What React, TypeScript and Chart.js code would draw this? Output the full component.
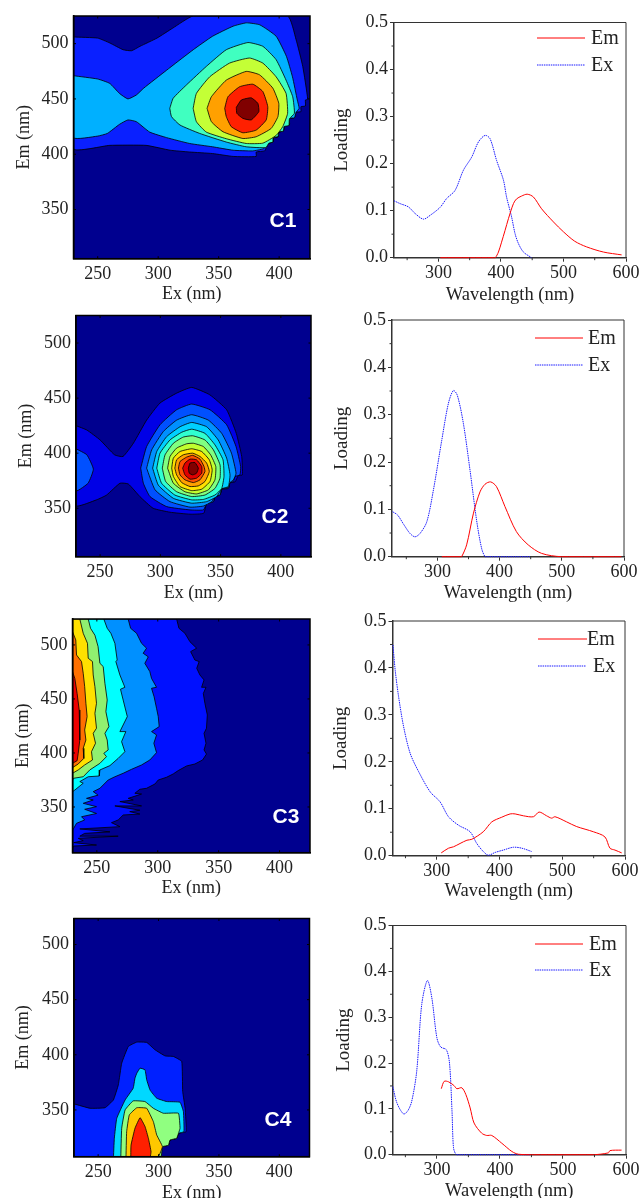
import React, { useEffect, useRef } from "react";
import { Chart, registerables } from "chart.js";

Chart.register(...registerables);

type P = [number, number];

/* ---------- axis ticks ---------- */
const exTicks = [250, 300, 350, 400];
const emTicks = [350, 400, 450, 500];
const waveTicks = [300, 400, 500, 600];
const waveMinor = [250, 350, 450, 550];
const loadTicks = [0, 0.1, 0.2, 0.3, 0.4, 0.5];
const loadMinor = [0.05, 0.15, 0.25, 0.35, 0.45];

/* ---------- C1 contours (Ex nm, Em nm) ---------- */
const c1Colors = ["#0a20ff", "#00b0ff", "#40ffc0", "#c4ff36", "#ffa000", "#ff2000", "#800000"];
const c1Levels: P[][] = [
  [[230, 506], [250, 505], [260, 500.6], [271, 494.5], [278, 493.6], [285, 497.6], [299, 505], [312, 514], [329, 525], [407, 525], [414, 503.6], [419.5, 479.4], [423.6, 449.7], [421.7, 449], [421.7, 443.6], [418, 443], [418, 438.5], [414, 438], [412.6, 433], [408.5, 432.4], [408.5, 426.4], [404.4, 425.5], [403.5, 421], [399.7, 420], [399, 415.8], [395, 415], [394.8, 411], [391.5, 410], [389, 405], [388, 403], [381, 402], [381, 398], [362, 398], [345, 400.6], [326, 402], [310, 403.6], [290, 408], [260, 408], [230, 405]],
  [[230, 471], [250, 468], [260, 464], [268, 455], [275, 450], [282, 453.6], [288, 459.7], [307, 476], [329, 494.5], [345, 506.7], [362, 515.8], [373, 518.8], [384, 517], [397.5, 506.7], [406, 488.5], [411, 470], [415, 449], [416.5, 441.5], [414, 438], [412.6, 433], [408.5, 432.4], [408.5, 426.4], [404.4, 425.5], [403.5, 421], [399.7, 420], [399, 415.8], [395, 415], [394.8, 411], [391.5, 410], [387, 405], [378, 403], [362, 403.6], [345, 406.7], [326, 409.7], [307, 415], [293, 420], [282, 429.4], [275, 431], [268, 427], [258, 418.8], [250, 416.4], [230, 415]],
  [[309.6, 441.5], [312.4, 450.6], [323.4, 462.7], [339.8, 479.4], [356.3, 494.5], [374.2, 501], [386.5, 497.6], [397.5, 485.5], [405.7, 467], [411.2, 452], [412.6, 437], [408.5, 432], [408, 426], [404, 425], [403.5, 421], [399.7, 420], [399, 416], [395, 415], [394.8, 411], [391.5, 410], [389, 406], [372.8, 406.7], [356.3, 411], [334.3, 418.8], [318, 426.4], [311, 434]],
  [[328.9, 441.5], [331.6, 455], [342.6, 470], [359, 482.4], [375.5, 487], [386.5, 482.4], [397.5, 470], [405.7, 455], [407, 437], [403, 425], [397.5, 417], [386.5, 410], [372.8, 409.7], [356.3, 414], [339.8, 420], [331.6, 429.4]],
  [[340.4, 441.5], [344, 452], [356.3, 467], [372.8, 474.9], [383.8, 471.8], [394.8, 459.7], [399.7, 446], [399, 434], [393.4, 423.3], [381, 415.8], [370, 414.2], [353.6, 420.3], [344, 429.4]],
  [[355, 441.5], [357.7, 452], [367.3, 461], [378.3, 463.3], [386.5, 456.7], [390.6, 443], [389.3, 431], [381, 421.8], [370, 419.4], [360.4, 424.9], [356.3, 434]],
  [[364.6, 442.4], [368.7, 449], [376.9, 451], [382.4, 446], [383.2, 438.5], [376.9, 431], [370, 432.4], [365, 437]],
];

/* ---------- C2 contours ---------- */
const c2Colors = ["#0000e6", "#0050ff", "#0090ff", "#00d0ff", "#30ffd0", "#80ff80", "#c0ff30", "#ffe000", "#ffa000", "#ff5000", "#e00000", "#800000"];
const c2Side: P[] = [[230, 404], [239, 398.5], [244.4, 385.5], [240, 372.7], [230, 365.8]];
const c2Levels: P[][] = [
  [[230, 425], [239, 421], [250, 412], [262, 398.5], [269, 397], [277.6, 409], [288.6, 430], [299.7, 445.5], [313.5, 454.5], [326, 459.7], [341, 453], [355, 439.4], [363, 418], [367.5, 397], [368, 380.3], [364.7, 379.7], [362, 374], [357.8, 373.3], [356.4, 368], [351, 367.6], [349.5, 362], [345.3, 360.6], [344, 356], [338.4, 354.6], [336, 345.5], [324.6, 344.6], [308, 346.4], [294, 350], [283, 360.6], [273.4, 372], [266.5, 372.7], [255.4, 362], [247, 357.6], [230, 352.4]],
  [[283.7, 386.4], [288.6, 406], [299.7, 425.8], [313.5, 439.4], [326, 444.6], [341.2, 439.4], [355, 425.8], [362.8, 406], [366.6, 387.9], [366, 380.3], [362, 378.8], [360.6, 374.3], [357.8, 373.3], [356.4, 368], [350.9, 367.3], [349.5, 362], [345.3, 360.6], [344, 356], [338.4, 354], [335.7, 348.5], [324.6, 348.5], [305.2, 351.5], [291.4, 360.6], [285.9, 372.7]],
  [[288.6, 386.4], [292.8, 403], [302.5, 419.7], [313.5, 430], [326, 434.9], [339.8, 430], [350.9, 418], [359, 400], [362.8, 381.8], [360.6, 375.8], [357.8, 373.3], [356.4, 368.8], [350.9, 367.6], [349.5, 362], [345.3, 360.6], [342.6, 356], [335.7, 352], [324.6, 351], [308, 356], [295.6, 366.7]],
  [[293.6, 386.4], [297, 401.5], [305.2, 415], [316.3, 424], [326, 427.9], [338.4, 424], [348, 412], [355, 395.5], [357.8, 380.3], [356.4, 369.7], [350.9, 367.6], [346.7, 360.6], [338.4, 356], [326, 354.6], [310.8, 359], [298.3, 371]],
  [[297, 386.4], [299.7, 400], [308, 412], [317.7, 419], [326, 421.8], [337, 418], [345.3, 407.6], [352, 394], [352.8, 378.8], [350.9, 368], [345.3, 362], [335.7, 358], [326, 357.6], [312, 362], [301, 372.7]],
  [[301.6, 386.4], [303.9, 398.5], [310.8, 409], [319, 414.6], [326.8, 415.8], [337, 412], [344, 403], [349.5, 389.4], [349.5, 377.3], [345.3, 368], [337, 362], [326, 360.6], [313.5, 365], [304.4, 374.3]],
  [[306, 386.4], [308, 397], [313.5, 404.6], [321.8, 408.5], [327.4, 409], [335.7, 406], [341.7, 398.5], [346, 387.9], [345.3, 375.8], [339.8, 366.7], [330, 363], [320.4, 365], [310.8, 372.7]],
  [[309.4, 386.4], [310.8, 395.5], [316.3, 401.5], [326, 404], [334.3, 401.5], [340.6, 394], [343, 384.9], [341.2, 374.3], [334.3, 367.3], [326, 366], [316.3, 369.7], [310.8, 378.8]],
  [[312, 386.4], [313.5, 394], [319, 398.5], [326.8, 400], [332.9, 397], [338.4, 391], [340.6, 383.3], [337, 374.3], [331.5, 370.3], [324.6, 369.7], [317.7, 373.3], [313.5, 380.3]],
  [[315, 386.4], [316.3, 392.4], [321.8, 396.4], [326.8, 398], [332.9, 394.6], [336.2, 387.9], [337, 383.3], [332.9, 375.8], [327.4, 373.3], [320.4, 375.8], [316.3, 380.3]],
  [[318.5, 386.4], [320.4, 391], [324.6, 394.6], [330, 394], [334.3, 387.9], [334.3, 381.8], [330, 377.3], [324.6, 376.4], [320.4, 380.3]],
  [[323.2, 386.4], [324.6, 391], [328.7, 391.5], [331.5, 386.4], [330, 381.8], [326.8, 380.3], [324, 381.8]],
];

/* ---------- C3 contours ---------- */
const c3Colors = ["#0010ff", "#0090ff", "#00ffff", "#90f070", "#ffe000", "#ff7000", "#ee0000"];
const c3Levels: P[][] = [
  [[230, 524], [315.5, 524], [317.4, 515.4], [322.3, 510.8], [326.4, 503], [331.9, 497], [327, 493.8], [330.5, 486], [334, 484.6], [332, 478.4], [334.6, 472.2], [338, 467.6], [336, 460.8], [339.6, 460.8], [337.4, 455], [338.7, 446], [340.7, 435.2], [340, 422.9], [338, 418.2], [339.6, 409], [338, 402.8], [340, 399], [336.8, 393.5], [330.5, 389.8], [323.7, 388], [316.8, 383.7], [312.7, 380.6], [307.2, 377.5], [300.4, 375], [297.7, 371.3], [290.8, 367.3], [285.3, 366.4], [281.2, 362.7], [286.7, 362], [275.7, 358], [279.9, 356.5], [268.9, 355], [286.7, 351], [264.8, 351], [285.3, 347], [277, 345.7], [285.3, 343.5], [271.6, 342.6], [267.5, 338], [262, 335.5], [268.9, 331.8], [236, 329.7], [260.7, 327], [240, 325.6], [236, 323], [267.5, 323], [234.7, 321], [238.8, 318.9], [231, 317], [249.7, 314.8], [231, 313.9], [230, 311.8]],
  [[230, 524], [275.7, 524], [277.7, 515.4], [282.6, 510.8], [286.7, 501.5], [290.8, 497], [288, 492.3], [292.2, 489], [289.4, 483], [293.5, 475.3], [294.9, 469], [299, 460.8], [294.9, 459.9], [297, 452], [299, 441.4], [300.4, 433.7], [301.2, 424.4], [294.9, 419.8], [299, 416.7], [296.8, 409], [299, 400.3], [293.5, 393.5], [286.7, 388.9], [278.5, 384.9], [271.6, 381.2], [264.8, 378], [259.3, 375], [252.5, 367.3], [247, 364.2], [251, 361], [241.5, 358], [247, 356.5], [238.8, 353.4], [249.7, 350.3], [240, 347.9], [249.7, 344], [237.4, 341], [240, 338], [233.3, 334.9], [231, 330.3], [230, 328.7]],
  [[230, 524], [255.7, 524], [258.5, 515.4], [261.5, 510.8], [264.8, 501.5], [266.7, 486], [265.6, 484.6], [268.9, 472.2], [273, 460.8], [269.4, 459], [271.6, 449], [275, 433.7], [268.9, 419.8], [273.8, 419.8], [270.3, 410.5], [273, 401.2], [267.5, 395], [260.7, 388.3], [252.5, 384.3], [252, 378.7], [242.9, 378], [236, 373.5], [238.8, 372], [232, 365.8], [230, 364.2]],
  [[230, 524], [242.9, 524], [244.8, 515.4], [248.4, 509], [251, 498.5], [252.5, 483], [255.2, 480], [256.6, 464.5], [258.5, 449], [257.4, 438.3], [259.9, 424.4], [256.6, 418.2], [258.5, 412], [259.3, 402.8], [255.7, 399.7], [257.9, 396.6], [252.5, 390.4], [244.2, 384.3], [238.8, 378], [231, 376.6], [230, 375]],
  [[230, 524], [236, 524], [238.8, 510.8], [242.3, 501.5], [242.9, 487.7], [246.4, 484.6], [247, 472.2], [248.4, 461.4], [249.7, 446], [248.4, 436.7], [249.7, 422.9], [247, 418.2], [248.9, 409], [245.6, 401.2], [246.4, 393.5], [240, 388.9], [234.7, 384.3], [230, 381.2]],
  [[230, 512.3], [232.7, 504.6], [233.3, 490.7], [237.4, 484.6], [238.8, 473.8], [240, 461.4], [241, 446], [242, 433.7], [240, 421.3], [241, 412], [238.8, 404.3], [239.3, 395], [234.7, 389.8], [230, 386.4]],
  [[230, 475.3], [231.9, 469], [233.8, 455], [235.5, 439.8], [236, 427.5], [236, 412], [234.7, 399.7], [233.8, 392.9], [230, 390.4]],
];

/* ---------- C4 contours ---------- */
const c4Colors = ["#0020ff", "#00d8ff", "#90ff80", "#ffc800", "#ff2000"];
const c4Levels: P[][] = [
  [[230, 355.5], [243.3, 351.5], [255.7, 352], [262.6, 359], [266.7, 372.7], [269.5, 392.4], [275, 407.6], [282, 411.5], [290.2, 411.2], [297, 404.6], [305.4, 399], [312.3, 398.5], [319.2, 394], [320, 366.7], [322, 351.5], [322.8, 330.3], [316.5, 328.8], [315, 324.3], [309.5, 322.7], [308.2, 318], [302.6, 316.7], [301.3, 305], [230, 305]],
  [[262.6, 305], [263.4, 324.3], [265.4, 342.4], [272.3, 359], [279, 369.7], [280.5, 378.8], [282, 383.3], [284.7, 387.9], [288.8, 386.4], [290.2, 377.3], [293, 368], [298.5, 360.6], [306.8, 357.6], [317.8, 357], [320.6, 348.5], [321, 330.3], [316.5, 328.8], [315, 324.3], [309.5, 322.7], [308.2, 318], [302.6, 316.7], [301.3, 305]],
  [[268.7, 305], [269.5, 333.4], [272.3, 350], [279, 358.2], [288.8, 357.6], [295.7, 351.5], [304, 347], [316.5, 347], [317.8, 333.4], [316.5, 328.8], [315, 324.3], [309.5, 322.7], [308.2, 318], [303.5, 316.7], [301.3, 305]],
  [[273, 305], [273.6, 330.3], [275.8, 345.5], [282, 352], [290.2, 351.5], [295.7, 339.4], [298.5, 327.3], [303.2, 316.7], [298.5, 305]],
  [[277, 305], [277.2, 318], [280.5, 333.4], [284.7, 343], [288.8, 335], [291.6, 324.3], [293.8, 312], [292.4, 305]],
];

/* ---------- loading curves (wavelength nm, loading) ---------- */
const l1Em: P[] = [[303, 0], [350, 0], [388, 0], [391, 0], [396, 0.012], [401, 0.033], [406.6, 0.058], [412, 0.083], [420, 0.115], [425, 0.125], [433, 0.131], [442, 0.135], [452, 0.129], [465, 0.104], [484, 0.076], [500, 0.055], [518, 0.035], [537, 0.023], [564, 0.012], [593, 0.006]];
const l1Ex: P[] = [[229, 0.121], [238.7, 0.115], [252, 0.108], [262.7, 0.094], [276, 0.082], [286.7, 0.09], [302.7, 0.107], [313.3, 0.126], [326.6, 0.143], [340, 0.186], [353.3, 0.214], [364, 0.246], [374.6, 0.26], [382.6, 0.253], [393, 0.207], [404, 0.165], [409, 0.129], [417, 0.087], [422.6, 0.051], [428, 0.03], [436, 0.012], [449, 0]];
const l2Em: P[] = [[307, 0], [337, 0], [339, 0], [347, 0.025], [358, 0.092], [368.5, 0.137], [376.5, 0.153], [385.6, 0.158], [395, 0.148], [408.6, 0.106], [427, 0.053], [446, 0.025], [467.5, 0.007], [499.6, 0], [595.8, 0]];
const l2Ex: P[] = [[228, 0.095], [236, 0.088], [245.4, 0.069], [256, 0.049], [264, 0.042], [272, 0.049], [283, 0.074], [293.6, 0.141], [307, 0.246], [317.7, 0.324], [325.7, 0.351], [332, 0.341], [341.7, 0.282], [352.4, 0.183], [363, 0.077], [371, 0.018], [376.5, 0], [380, 0], [448.7, 0]];
const l3Em: P[] = [[307, 0.006], [318.6, 0.016], [326.6, 0.019], [337, 0.026], [348, 0.033], [355.8, 0.035], [374, 0.051], [387.6, 0.072], [403.5, 0.082], [416.8, 0.089], [424.8, 0.089], [438, 0.085], [454, 0.083], [463, 0.093], [475, 0.085], [483, 0.08], [488.5, 0.083], [507, 0.072], [523, 0.062], [549.6, 0.051], [568, 0.04], [576, 0.016], [584, 0.012], [594.7, 0.006]];
const l3Ex: P[] = [[230, 0.449], [233.6, 0.395], [239, 0.339], [247, 0.275], [257.5, 0.218], [271, 0.179], [289.4, 0.136], [305, 0.115], [318.6, 0.083], [334.5, 0.065], [353, 0.051], [363.7, 0.026], [374, 0.009], [382, 0.001], [393, 0.007], [406, 0.012], [422, 0.018], [435.4, 0.016], [451, 0.009]];
const l4Em: P[] = [[307, 0.144], [311.6, 0.16], [318.5, 0.159], [327, 0.151], [331.7, 0.144], [339.6, 0.146], [346, 0.131], [352.8, 0.102], [359, 0.069], [371, 0.047], [379, 0.042], [387, 0.042], [403, 0.025], [419, 0.007], [429.4, 0.001], [453, 0], [548, 0], [572, 0.004], [574.6, 0.009], [593, 0.01]];
const l4Ex: P[] = [[230, 0.149], [236.6, 0.113], [247, 0.089], [253.5, 0.095], [260, 0.116], [268, 0.182], [276, 0.328], [285, 0.38], [292, 0.342], [300, 0.255], [306, 0.235], [315, 0.229], [320, 0.2], [324, 0.095], [326.4, 0.015], [330.6, 0], [335, 0], [448, 0]];

const SERIF = "'Liberation Serif', serif";
const INK = "#222";
const NAVY = "#00008f";
const asXY = (a: P[]) => a.map(([x, y]) => ({ x, y }));

type Rect = { l: number; r: number; t: number; b: number };

function contourConfig(c: any, top: number, left: number) {
  const datasets: any[] = [];
  const all: { pts: P[]; color: string }[] = c.levels.map((pts: P[], i: number) => ({ pts, color: c.colors[i] }));
  if (c.extra) all.splice(1, 0, { pts: c.extra, color: c.colors[1] });
  all.forEach((lv, i) => {
    datasets.push({
      data: asXY([...lv.pts, lv.pts[0]]),
      showLine: true,
      pointRadius: 0,
      borderColor: "#000",
      backgroundColor: lv.color,
      borderWidth: 0.8,
      tension: c.tension,
      fill: "shape",
      order: all.length - i,
    });
  });
  const r: Rect = c.rect;
  const overlay = {
    id: "contourOverlay",
    beforeDatasetsDraw(chart: any) {
      const { ctx, chartArea: a } = chart;
      ctx.save();
      ctx.fillStyle = NAVY;
      ctx.fillRect(a.left, a.top, a.right - a.left, a.bottom - a.top);
      ctx.restore();
    },
    afterDatasetsDraw(chart: any) {
      const { ctx, chartArea: a, scales } = chart;
      ctx.save();
      ctx.strokeStyle = "#000";
      ctx.lineWidth = 1.5;
      ctx.strokeRect(a.left, a.top, a.right - a.left, a.bottom - a.top);
      ctx.lineWidth = 1;
      ctx.beginPath();
      exTicks.forEach((v) => {
        const p = scales.x.getPixelForValue(v);
        ctx.moveTo(p, a.bottom); ctx.lineTo(p, a.bottom - 2.5);
        ctx.moveTo(p, a.top); ctx.lineTo(p, a.top + 2.5);
      });
      emTicks.forEach((v) => {
        const p = scales.y.getPixelForValue(v);
        ctx.moveTo(a.left, p); ctx.lineTo(a.left + 2.5, p);
        ctx.moveTo(a.right, p); ctx.lineTo(a.right - 2.5, p);
      });
      ctx.stroke();
      ctx.fillStyle = "#fff";
      ctx.font = "bold 21px 'Liberation Sans', sans-serif";
      ctx.textAlign = "center";
      ctx.textBaseline = "middle";
      ctx.fillText(c.tag, c.tagPos[0] - left, c.tagPos[1] - top);
      ctx.restore();
    },
  };
  return {
    type: "scatter",
    data: { datasets },
    plugins: [overlay],
    options: baseOptions(r, c.xRange, c.yRange, exTicks, emTicks, "Ex (nm)", "Em (nm)", c.xTitle, c.yTitle, top, left, 320,
      (v: number) => String(v), 0, 5),
  };
}

function baseOptions(r: Rect, xr: number[], yr: number[], xt: number[], yt: number[], xLabel: string, yLabel: string,
  xTitleY: number, yTitleX: number, top: number, left: number, width: number, yFmt: (v: number) => string, tickLen: number, tickPad: number) {
  const half = 10.8;
  const yW = r.l - yTitleX + half;
  const xH = xTitleY + half - r.b;
  const isLine = tickLen > 0;
  return {
    responsive: false,
    animation: false,
    events: [],
    layout: {
      autoPadding: false,
      padding: { left: yTitleX - half - left, right: left + width - r.r, top: r.t - top, bottom: 0 },
    },
    plugins: { legend: { display: false }, tooltip: { enabled: false }, title: { display: false } },
    scales: {
      x: {
        type: "linear", min: xr[0], max: xr[1],
        afterBuildTicks: (s: any) => { s.ticks = xt.map((value) => ({ value })); },
        afterFit: (s: any) => { s.height = xH; },
        grid: { display: isLine, drawOnChartArea: false, tickLength: tickLen, color: "#333", tickWidth: 1 },
        border: { display: true, color: isLine ? "#333" : "#000", width: 1.5, z: isLine ? 0 : 1 },
        ticks: { autoSkip: false, maxRotation: 0, minRotation: 0, padding: isLine ? 1 : 5, color: INK, font: { family: SERIF, size: 18 }, callback: (v: number) => String(v) },
        title: { display: true, text: xLabel, color: INK, padding: 0, font: { family: SERIF, size: isLine ? 18.5 : 18 } },
      },
      y: {
        type: "linear", min: yr[0], max: yr[1],
        afterBuildTicks: (s: any) => { s.ticks = yt.map((value) => ({ value })); },
        afterFit: (s: any) => { s.width = yW; },
        grid: { display: isLine, drawOnChartArea: false, tickLength: tickLen, color: "#333", tickWidth: 1 },
        border: { display: true, color: isLine ? "#333" : "#000", width: 1.5, z: isLine ? 0 : 1 },
        ticks: { autoSkip: false, padding: tickPad, color: INK, font: { family: SERIF, size: 18 }, callback: yFmt },
        title: { display: true, text: yLabel, color: INK, padding: 0, font: { family: SERIF, size: yLabel === "Loading" ? 19 : 18 } },
      },
    },
  };
}

function lineConfig(c: any, top: number, left: number) {
  const datasets = [
    { label: "Em", data: asXY(c.em), showLine: true, pointRadius: 0, borderColor: "#ff0000", borderWidth: 1, tension: 0.3, clip: 3 },
    { label: "Ex", data: asXY(c.ex), showLine: true, pointRadius: 0, borderColor: "#1a1aff", borderWidth: 1, borderDash: [1.5, 0.8], tension: 0.3, clip: 3 },
  ];
  const overlay = {
    id: "lineOverlay",
    afterDraw(chart: any) {
      const { ctx, chartArea: a, scales } = chart;
      ctx.save();
      ctx.strokeStyle = "#333";
      ctx.lineWidth = 1;
      ctx.beginPath();
      ctx.moveTo(a.left, a.top); ctx.lineTo(a.right, a.top); ctx.lineTo(a.right, a.bottom);
      waveMinor.forEach((v) => {
        const p = scales.x.getPixelForValue(v);
        ctx.moveTo(p, a.bottom); ctx.lineTo(p, a.bottom + 2.5);
      });
      loadMinor.forEach((v) => {
        const p = scales.y.getPixelForValue(v);
        ctx.moveTo(a.left, p); ctx.lineTo(a.left - 2.5, p);
      });
      ctx.stroke();
      ctx.font = `20px ${SERIF}`;
      ctx.textBaseline = "middle";
      ctx.textAlign = "left";
      chart.data.datasets.forEach((d: any, i: number) => {
        const k = c.legend[i];
        ctx.beginPath();
        ctx.strokeStyle = d.borderColor;
        ctx.setLineDash(d.borderDash || []);
        ctx.moveTo(k.x0 - left, k.y - top);
        ctx.lineTo(k.x1 - left, k.y - top);
        ctx.stroke();
        ctx.setLineDash([]);
        ctx.fillStyle = INK;
        ctx.fillText(d.label, k.tx - left, k.y - top + 1);
      });
      ctx.restore();
    },
  };
  return {
    type: "scatter",
    data: { datasets },
    plugins: [overlay],
    options: baseOptions(c.rect, c.xRange, [0, 0.5], waveTicks, loadTicks, "Wavelength (nm)", "Loading", c.xTitle, c.yTitle, top, left, 323,
      (v: number) => v.toFixed(1), 4, 2),
  };
}

const contourPanels = [
  { tag: "C1", tagPos: [283, 221], levels: c1Levels, colors: c1Colors, tension: 0.15, rect: { l: 73.5, r: 310, t: 16, b: 258.5 }, xRange: [230, 425.5], yRange: [305.5, 525], xTitle: 294, yTitle: 24 },
  { tag: "C2", tagPos: [275, 517], levels: c2Levels, extra: c2Side, colors: c2Colors, tension: 0.15, rect: { l: 76, r: 311, t: 315.5, b: 556.5 }, xRange: [230, 425], yRange: [306, 525], xTitle: 593, yTitle: 26 },
  { tag: "C3", tagPos: [286, 817], levels: c3Levels, colors: c3Colors, tension: 0, rect: { l: 72.5, r: 310, t: 619, b: 852.5 }, xRange: [230, 425], yRange: [307.7, 524], xTitle: 888, yTitle: 23 },
  { tag: "C4", tagPos: [278, 1120], levels: c4Levels, colors: c4Colors, tension: 0.1, rect: { l: 74, r: 309.5, t: 918.5, b: 1156.5 }, xRange: [230, 425], yRange: [307.6, 523.6], xTitle: 1193, yTitle: 23.5 },
];

const linePanels = [
  { em: l1Em, ex: l1Ex, rect: { l: 394, r: 626, t: 22.5, b: 257.5 }, xRange: [229, 600], xTitle: 295, yTitle: 341.7, legend: [{ x0: 537, x1: 585, y: 38, tx: 591 }, { x0: 537, x1: 585, y: 65, tx: 591 }] },
  { em: l2Em, ex: l2Ex, rect: { l: 392, r: 624, t: 320, b: 556.5 }, xRange: [227, 600], xTitle: 593, yTitle: 341.7, legend: [{ x0: 535, x1: 583, y: 338, tx: 588 }, { x0: 535, x1: 583, y: 365, tx: 588 }] },
  { em: l3Em, ex: l3Ex, rect: { l: 392.5, r: 625, t: 621, b: 855.5 }, xRange: [229.3, 600], xTitle: 891, yTitle: 340, legend: [{ x0: 538, x1: 587, y: 639, tx: 587 }, { x0: 538, x1: 586, y: 666, tx: 593 }] },
  { em: l4Em, ex: l4Ex, rect: { l: 392.5, r: 626, t: 925.5, b: 1154.5 }, xRange: [229.6, 600], xTitle: 1191, yTitle: 343.3, legend: [{ x0: 535, x1: 583, y: 944, tx: 589 }, { x0: 535, x1: 583, y: 970, tx: 589 }] },
];

function Panel({ make, cfg, left, width }: { make: any; cfg: any; left: number; width: number }) {
  const ref = useRef<HTMLCanvasElement | null>(null);
  const top = Math.floor(cfg.rect.t) - 16;
  const height = Math.ceil(cfg.xTitle + 10.8) - top;
  useEffect(() => {
    const chart = new Chart(ref.current as any, make(cfg, top, left));
    return () => chart.destroy();
  }, []);
  return (
    <canvas
      ref={ref}
      width={width}
      height={height}
      style={{ position: "absolute", left, top, width, height, display: "block" }}
    />
  );
}

export default function App() {
  return (
    <div style={{ position: "absolute", left: 0, top: 0, width: 643, height: 1198, overflow: "hidden", background: "#fff" }}>
      {contourPanels.map((c) => (
        <Panel key={c.tag} make={contourConfig} cfg={c} left={0} width={320} />
      ))}
      {linePanels.map((c, i) => (
        <Panel key={i} make={lineConfig} cfg={c} left={320} width={323} />
      ))}
    </div>
  );
}
